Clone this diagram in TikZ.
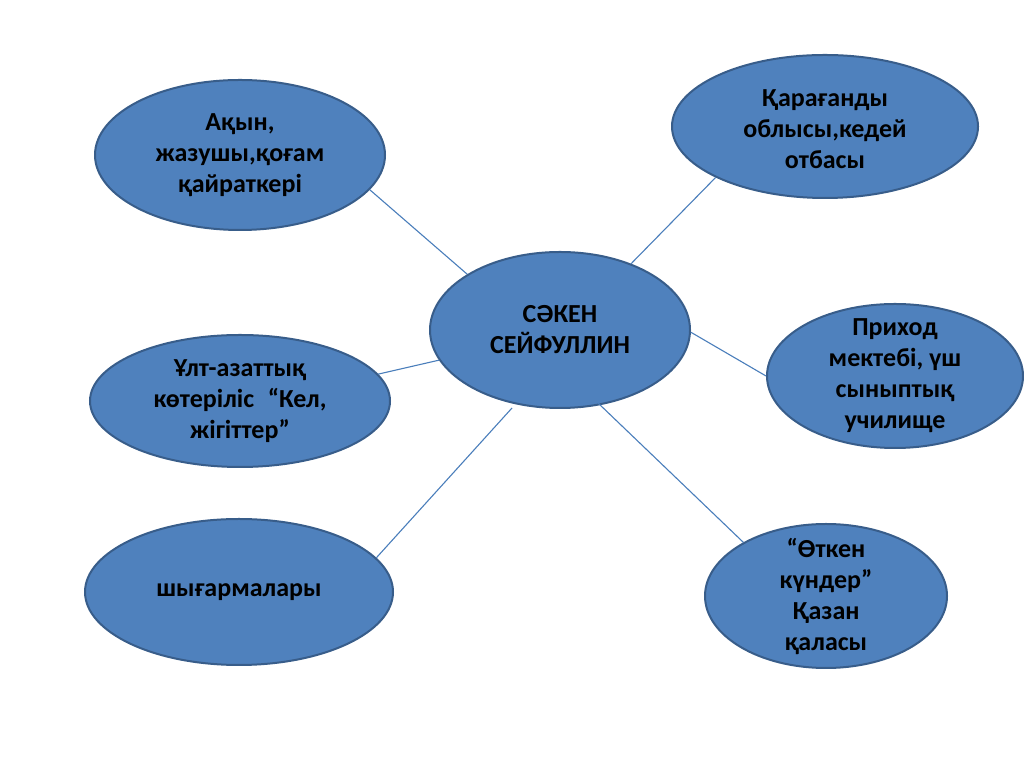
\documentclass[tikz,border=0pt]{standalone}
\usepackage{fontspec}
\setmainfont{Carlito}
\usetikzlibrary{shapes.geometric}
\definecolor{bubfill}{HTML}{4F81BD}
\definecolor{bubline}{HTML}{385D8A}
\definecolor{conn}{HTML}{4A7EBB}
\begin{document}
\begin{tikzpicture}[x=1pt,y=1pt,
  bub/.style={ellipse, fill=bubfill, draw=bubline, line width=2pt, inner sep=0pt},
  txt/.style={align=center, text=black, font=\fontsize{26}{31}\selectfont\bfseries},
  conline/.style={draw=conn, line width=1.1pt}]
\useasboundingbox[fill=white] (0,0) rectangle (1024,767);
% ellipses
\node[bub, minimum width=260, minimum height=156] (c) at (560,437) {};
\node[bub, minimum width=290, minimum height=150] (tl) at (240,612) {};
\node[bub, minimum width=306, minimum height=143] (tr) at (825,640.5) {};
\node[bub, minimum width=300, minimum height=132] (l) at (240,366) {};
\node[bub, minimum width=256, minimum height=144] (r) at (895,391) {};
\node[bub, minimum width=308, minimum height=146] (bl) at (239,175) {};
\node[bub, minimum width=242, minimum height=144] (br) at (826,171) {};
% texts
\node[txt] (tc) at (c.center) {СӘКЕН\\СЕЙФУЛЛИН};
\node[txt] (ttl) at (tl.center) {Ақын,\\жазушы,қоғам\\қайраткері};
\node[txt] (ttr) at ([yshift=-3]tr.center) {Қарағанды\\облысы,кедей\\отбасы};
\node[txt] (tl2) at (l.center) {Ұлт-азаттық\\көтеріліс\hspace{0.3em} “Кел,\\жігіттер”};
\node[txt] (tr2) at (r.center) {Приход\\мектебі, үш\\сыныптық\\училище};
\node[txt] (tbl) at (bl.center) {шығармалары};
\node[txt] (tbr) at (br.center) {“Өткен\\күндер”\\Қазан\\қаласы};
% connectors
\path[conline] (c.149.9) -- (tl.-15.8);
\path[conline] (c.43.4) -- (tr.205.7);
\path[conline] (c.194.6) -- (l.11.2);
\path[conline] (c.-1) -- (r.180);
\coordinate (cbl) at (512,359);
\coordinate (cbr) at (598,364);
\path[conline] (cbl) -- (bl.14.7);
\path[conline] (cbr) -- (br.147.5);
\end{tikzpicture}
\end{document}
